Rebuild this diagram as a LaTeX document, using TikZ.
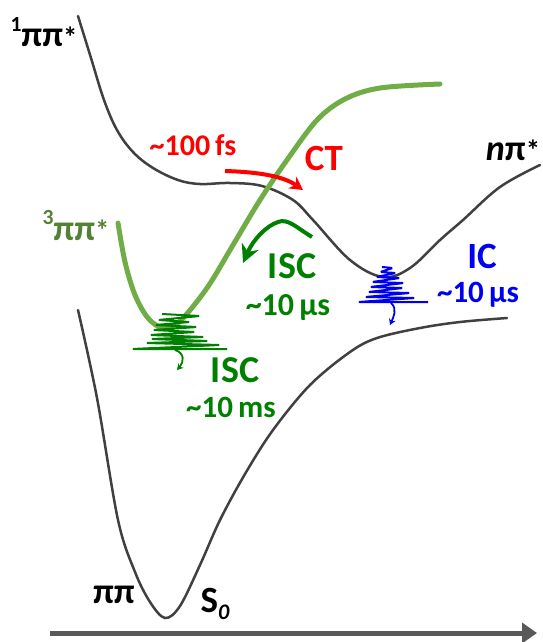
\documentclass[tikz,border=0pt]{standalone}
\usepackage{fontspec}
\setmainfont{Carlito}
\usetikzlibrary{arrows.meta}
\definecolor{curvegray}{HTML}{404040}
\definecolor{lightgreen}{HTML}{70AD47}
\definecolor{tripgreen}{HTML}{548235}
\definecolor{darkgreen}{HTML}{008000}
\definecolor{bluec}{HTML}{0000F0}
\definecolor{redc}{HTML}{FF0000}
\definecolor{axisgray}{HTML}{595959}
\newcommand\fsz[1]{\fontsize{#1}{#1}\selectfont}
\newcommand\upsc[1]{\raisebox{0.42em}{\scalebox{0.6}{#1}}}
\newcommand\upstar{\raisebox{-0.02em}{\scalebox{0.8}{*}}}
\tikzset{
  pes/.style={line width=2.5pt, color=curvegray, line cap=round},
  tripcurve/.style={line width=5pt, color=lightgreen, line cap=round},
  wiggle/.style={line width=2pt, rounded corners=1.5pt, line join=round},
  lbl/.style={inner sep=0pt, anchor=base, font=\bfseries},
}
\begin{document}
\begin{tikzpicture}[x=1pt,y=-1pt]
\useasboundingbox (0,0) rectangle (542,642);

% potential energy curves
\draw[pes] plot[smooth, tension=0.6] coordinates {(78,16) (91,58) (104,100) (117,130) (133,152) (153,168) (178,180) (200,184) (230,183) (262,186) (293,200) (313,220) (350,260) (383,277) (410,268) (440,240) (463,220) (500,187) (540,165)};
\draw[pes] plot[smooth, tension=0.55] coordinates {(78,310) (97,398) (118,520) (135,572) (150,602) (165,618) (180,606) (200,565) (220,520) (245,474) (273,430) (310,385) (350,352) (377,338) (420,328) (460,322) (507,318)};
\draw[tripcurve] plot[smooth, tension=0.55] coordinates {(118,223) (125,262) (135,295) (148,318) (163,328) (180,321) (207,288) (233,245) (260,200) (287,160) (317,120) (345,99) (380,88) (440,84)};

% vibrational wiggles
\draw[wiggle, darkgreen] (162,314) -- (200,316) -- (158,320) -- (190,322) -- (155,325) -- (197,327) -- (153,330) -- (195,332) -- (150,335) -- (204,337) -- (151,339) -- (208,341) -- (146,343) -- (220,345) -- (132,349) -- (227,349);
\draw[wiggle, bluec] (382,267) -- (393,268) -- (380,272) -- (396,273) -- (376,277) -- (400,278) -- (372,282) -- (404,283) -- (370,287) -- (403,288) -- (368,292) -- (410,293) -- (365,297) -- (415,298) -- (358,302) -- (428,302);

% arrows
\coordinate (ga1) at (175,350); \coordinate (ga2) at (177,370);
\draw[line width=1.8pt, darkgreen, -{Stealth[length=6pt,width=7pt]}] (ga1) .. controls (185,353) and (184,362) .. (ga2);
\coordinate (ba1) at (391,303); \coordinate (ba2) at (390,325);
\draw[line width=1.8pt, bluec, -{Stealth[length=6pt,width=7pt]}] (ba1) .. controls (398,309) and (393,318) .. (ba2);
\coordinate (r1) at (225,171); \coordinate (r2) at (303,190);
\draw[line width=4pt, redc, -{Stealth[length=13pt,width=14pt]}] (r1) .. controls (258,172) and (283,176) .. (r2);
\coordinate (i1) at (312,237); \coordinate (i2) at (243,263);
\draw[line width=4pt, darkgreen, -{Stealth[length=18pt,width=18pt]}] (i1) .. controls (297,228) and (288,218) .. (278,222) .. controls (266,226) and (253,240) .. (i2);

% axis
\coordinate (ax1) at (50,633); \coordinate (ax2) at (537,633);
\draw[line width=5pt, axisgray, -{Triangle[length=15pt,width=20pt]}] (ax1) -- (ax2);

% labels
\node[lbl, black] (l1) at (44,47) {\fsz{36}\upsc{1}ππ\upstar};
\node[lbl, tripgreen] (l3) at (76,240) {\fsz{36}\upsc{3}ππ\upstar};
\node[lbl, black] (lnp) at (513,160) {\fsz{36}\textit{n}π\upstar};
\node[lbl, black] (lpp) at (114,603) {\fsz{36}ππ};
\node[lbl, black] (ls0) at (215,612) {\fsz{37}S\raisebox{-0.2em}{\scalebox{0.6}{\textit{0}}}};
\node[lbl, redc] (lfs) at (193,155) {\fsz{30}\textasciitilde 100\,fs};
\node[lbl, redc] (lct) at (324,170) {\fsz{37}CT};
\node[lbl, darkgreen] (lisc1) at (292,278) {\fsz{38}ISC};
\node[lbl, darkgreen] (lus1) at (288,315) {\fsz{32}\textasciitilde 10\,μs};
\node[lbl, darkgreen] (lisc2) at (235,382) {\fsz{38}ISC};
\node[lbl, darkgreen] (lms) at (231,417) {\fsz{31}\textasciitilde 10\,ms};
\node[lbl, bluec] (lic) at (482,268) {\fsz{37}IC};
\node[lbl, bluec] (lus2) at (478,302) {\fsz{31}\textasciitilde 10\,μs};
\end{tikzpicture}
\end{document}
